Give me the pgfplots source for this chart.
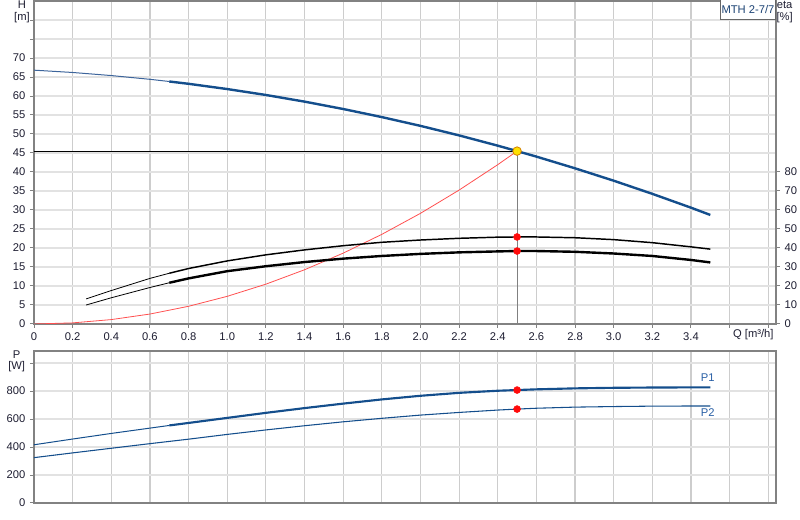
\documentclass[border=0pt]{standalone}
\usepackage{fontspec}
\setmainfont{Liberation Sans}
\usepackage{pgfplots}
\pgfplotsset{compat=1.18}
\definecolor{hblue}{RGB}{20,78,140}
\definecolor{hbluelt}{RGB}{60,100,155}
\definecolor{gridv}{RGB}{205,205,205}
\definecolor{gridh}{RGB}{226,226,226}
\definecolor{framec}{RGB}{130,130,130}
\definecolor{lbl}{RGB}{30,30,50}
\definecolor{redc}{RGB}{255,80,80}
\definecolor{dotred}{RGB}{255,10,10}
\definecolor{ptyellow}{RGB}{255,225,0}
\definecolor{ptedge}{RGB}{210,130,0}
\definecolor{ptxt}{RGB}{40,95,165}
\begin{document}
\begin{tikzpicture}
\path[use as bounding box] (0,0) rectangle (600pt,390pt);
\pgfplotsset{
  base/.style={scale only axis, width=556.5pt, xmin=0, xmax=3.84,
    tick align=outside, major tick length=3pt,
    every tick/.style={framec, line width=0.75pt},
    axis line style={framec, line width=0.9pt},
    ticklabel style={font=\fontsize{8.4}{9.5}\selectfont, text=lbl},
    /pgf/number format/assume math mode=true,
    xtick={0,0.2,0.4,0.6,0.8,1.0,1.2,1.4,1.6,1.8,2.0,2.2,2.4,2.6,2.8,3.0,3.2,3.4,3.6,3.8},
    x grid style={gridv, line width=0.9pt},
    y grid style={gridh, line width=0.9pt},
  }
}
% ---------------- top axis (H) ----------------
\begin{axis}[base, at={(25.5pt,147pt)}, anchor=south west, height=242.25pt,
  ymin=0, ymax=85,
  xticklabels={0,0.2,0.4,0.6,0.8,1.0,1.2,1.4,1.6,1.8,2.0,2.2,2.4,2.6,2.8,3.0,3.2,3.4,,},
  ytick={0,5,10,15,20,25,30,35,40,45,50,55,60,65,70,75,80},
  yticklabels={0,5,10,15,20,25,30,35,40,45,50,55,60,65,70,,},
  xtick pos=bottom, ytick pos=left,
  xmajorgrids, ymajorgrids]
% system curve
\addplot[redc, line width=0.6pt] coordinates {(0,0) (0.2,0.29) (0.4,1.16) (0.6,2.62) (0.8,4.66) (1.0,7.28) (1.2,10.48) (1.4,14.27) (1.6,18.64) (1.8,23.59) (2.0,29.12) (2.2,35.24) (2.4,41.93) (2.5,45.5)};
% duty lines
\addplot[black, line width=0.75pt] coordinates {(0,45.5) (2.5,45.5)};
\addplot[gray, line width=0.75pt] coordinates {(2.5,45.5) (2.5,0)};
% H curve
\addplot[hbluelt, line width=0.75pt] coordinates {(0,66.8) (0.2,66.19) (0.4,65.38) (0.6,64.39) (0.7,63.82)};
\addplot[hblue, line width=1.8pt] coordinates {(0.7,63.82) (0.8,63.21) (1.0,61.83) (1.2,60.27) (1.4,58.52) (1.6,56.58) (1.8,54.45) (2.0,52.14) (2.2,49.63) (2.4,46.93) (2.5,45.5) (2.6,44.05) (2.8,40.97) (3.0,37.71) (3.2,34.25) (3.4,30.61) (3.5,28.7)};
\addplot[only marks, mark=*, mark size=3.2pt, mark options={fill=ptyellow, draw=ptedge, line width=0.6pt}] coordinates {(2.5,45.5)};
\end{axis}
% ---------------- right axis (eta) ----------------
\begin{axis}[base, at={(25.5pt,147pt)}, anchor=south west, height=242.25pt,
  ymin=0, ymax=170, axis x line=none, axis y line*=right,
  ytick={0,10,20,30,40,50,60,70,80}]
\addplot[black, line width=0.6pt] coordinates {(0.27,13.2) (0.4,17.6) (0.6,24.0) (0.7,26.7)};
\addplot[black, line width=1.1pt] coordinates {(0.7,26.7) (0.8,29.2) (1.0,33.2) (1.2,36.4) (1.4,39.0) (1.6,41.2) (1.8,43.0) (2.0,44.2) (2.2,45.1) (2.4,45.7) (2.5,45.8) (2.6,45.8) (2.8,45.4) (3.0,44.4) (3.2,42.8) (3.4,40.6) (3.5,39.4)};
\addplot[black, line width=0.6pt] coordinates {(0.27,10.0) (0.4,13.8) (0.6,19.2) (0.7,21.7)};
\addplot[black, line width=1.8pt] coordinates {(0.7,21.7) (0.8,24.0) (1.0,27.8) (1.2,30.4) (1.4,32.6) (1.6,34.4) (1.8,35.8) (2.0,36.9) (2.2,37.7) (2.4,38.2) (2.5,38.4) (2.6,38.4) (2.8,38.0) (3.0,37.1) (3.2,35.8) (3.4,33.7) (3.5,32.4)};
\addplot[only marks, mark=*, mark size=2.6pt, dotred] coordinates {(2.5,45.8) (2.5,38.4)};
\end{axis}
% ---------------- bottom axis (P) ----------------
\begin{axis}[base, at={(25.5pt,12.75pt)}, anchor=south west, height=114pt,
  ymin=0, ymax=1086,
  xticklabels={}, xtick style={draw=none},
  ytick={0,200,400,600,800,1000},
  yticklabels={0,200,400,600,800,},
  ytick pos=left,
  xmajorgrids, ymajorgrids]
\addplot[hblue, line width=0.75pt] coordinates {(0,416) (0.2,457) (0.4,497) (0.6,535) (0.7,554)};
\addplot[hblue, line width=1.6pt] coordinates {(0.7,554) (0.8,572) (1.0,608) (1.2,644) (1.4,678) (1.6,710) (1.8,740) (2.0,766) (2.2,787) (2.4,802) (2.5,807) (2.6,812) (2.8,819) (3.0,823) (3.2,825) (3.4,826) (3.5,826)};
\addplot[hblue, line width=0.8pt] coordinates {(0,324) (0.2,358) (0.4,391) (0.6,424) (0.8,456) (1.0,490) (1.2,522) (1.4,552) (1.6,580) (1.8,605) (2.0,628) (2.2,647) (2.4,664) (2.5,671) (2.6,677) (2.8,685) (3.0,689) (3.2,692) (3.4,693) (3.5,693)};
\addplot[only marks, mark=*, mark size=2.6pt, dotred] coordinates {(2.5,807) (2.5,671)};
\node[text=ptxt, font=\fontsize{8.4}{9.5}\selectfont] at (axis cs:3.487,893) {P1};
\node[text=ptxt, font=\fontsize{8.4}{9.5}\selectfont] at (axis cs:3.487,648) {P2};
\end{axis}
% ---------------- labels ----------------
\begin{scope}[every node/.style={text=lbl, font=\fontsize{8.4}{9.5}\selectfont, inner sep=0pt}]
\node at (16.5pt,386.25pt) {H};
\node at (16.5pt,377pt) {[m]};
\node at (588.5pt,386.25pt) {eta};
\node at (588.5pt,377pt) {[\%]};
\node at (12.5pt,123.75pt) {P};
\node at (12.5pt,115pt) {[W]};
\node at (565pt,138.75pt) {Q [m³/h]};
\end{scope}
\draw[fill=white, draw=gray!80!black, line width=0.75pt] (540.5pt,375.5pt) rectangle (581.8pt,390pt);
\node[text=ptxt!70!black, font=\fontsize{8.4}{9.5}\selectfont, inner sep=0pt] at (561pt,382.5pt) {MTH 2-7/7};
\end{tikzpicture}
\end{document}
